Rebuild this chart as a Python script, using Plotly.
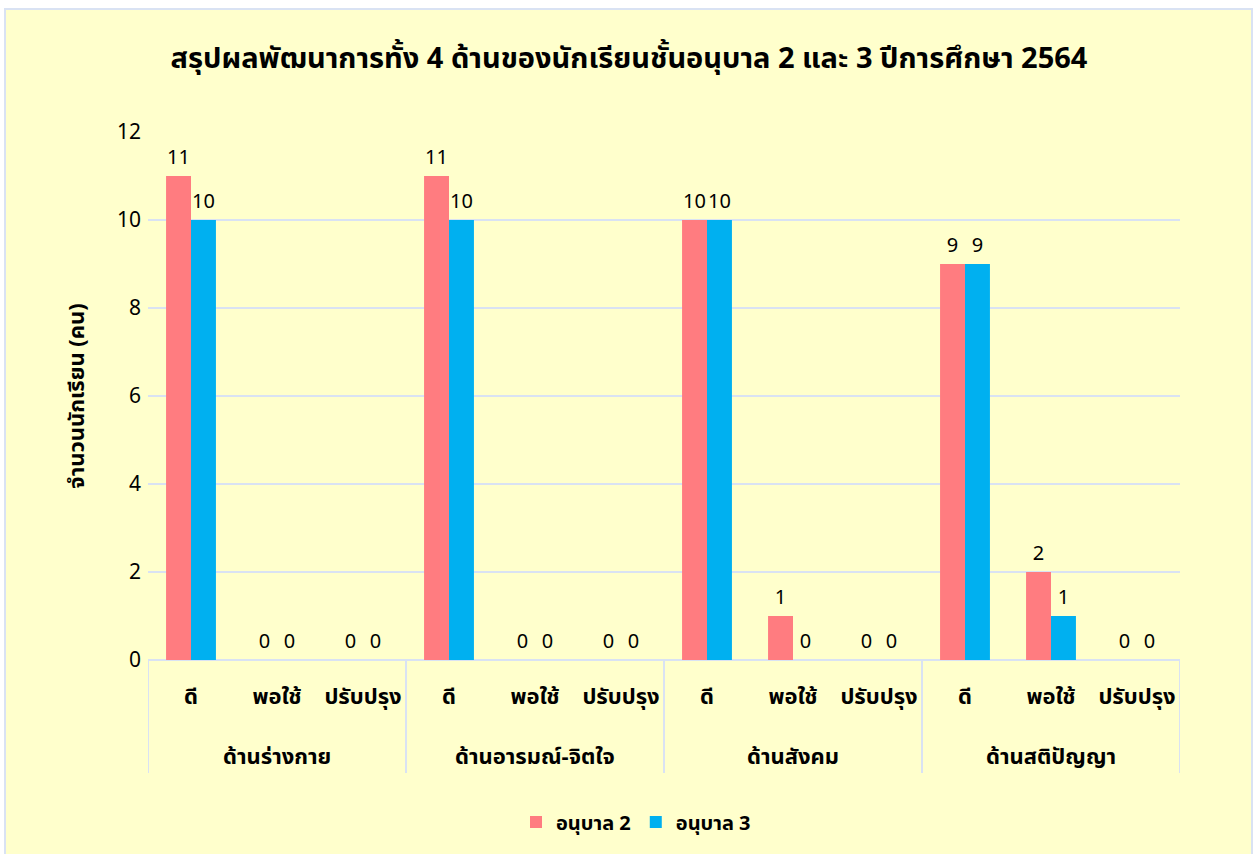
import plotly.graph_objects as go

groups = ["ด้านร่างกาย", "ด้านอารมณ์-จิตใจ", "ด้านสังคม", "ด้านสติปัญญา"]
levels = ["ดี", "พอใช้", "ปรับปรุง"]
series_names = ["อนุบาล 2", "อนุบาล 3"]
k2 = [11, 0, 0, 11, 0, 0, 10, 1, 0, 9, 2, 0]
k3 = [10, 0, 0, 10, 0, 0, 10, 0, 0, 9, 1, 0]
colors = ["#FF7C80", "#00B0F0"]

xl = [l for _ in groups for l in levels]
xi = list(range(len(xl)))
n = len(levels)

FONT = "Noto Sans Thai, Noto Sans, Tahoma, sans-serif"

fig = go.Figure()
for name, vals, c in zip(series_names, [k2, k3], colors):
    fig.add_trace(go.Bar(
        x=xi, y=vals, name="<b>" + name + "</b>", marker=dict(color=c, line=dict(width=0)),
        text=[str(v) for v in vals], textposition="outside", cliponaxis=False,
        textfont=dict(size=20, color="#000000", family=FONT),
    ))

W, H = 1253, 854
L, R, T, B = 148, 73, 132, 194
pw, ph = W - L - R, H - T - B

def px_x(p):
    return (p - L) / pw

def px_y(p):
    return (H - B - p) / ph

fig.add_shape(type="rect", xref="paper", yref="paper",
              x0=px_x(5), x1=px_x(1252), y0=px_y(856), y1=px_y(9),
              fillcolor="#FFFFCC", line=dict(color="#D9E2F3", width=2), layer="below")

# group dividers and group labels
for gi, g in enumerate(groups):
    fig.add_shape(type="line", xref="x", yref="paper",
                  x0=gi * n - 0.5, x1=gi * n - 0.5, y0=0, y1=px_y(773),
                  line=dict(color="#D9E2F3", width=2))
    fig.add_annotation(x=gi * n + (n - 1) / 2, y=px_y(757), xref="x", yref="paper",
                       text="<b>" + g + "</b>", showarrow=False, yanchor="middle",
                       font=dict(size=22, color="#000000", family=FONT))
fig.add_shape(type="line", xref="x", yref="paper",
              x0=len(xl) - 0.5, x1=len(xl) - 0.5, y0=0, y1=px_y(773),
              line=dict(color="#D9E2F3", width=2))

fig.update_layout(
    width=W, height=H,
    margin=dict(l=L, r=R, t=T, b=B),
    paper_bgcolor="white", plot_bgcolor="rgba(0,0,0,0)",
    font=dict(family=FONT, color="#000000"),
    title=dict(text="<b>สรุปผลพัฒนาการทั้ง 4 ด้านของนักเรียนชั้นอนุบาล 2 และ 3 ปีการศึกษา 2564</b>",
               x=629 / W, xanchor="center", y=1 - 58 / H, yanchor="middle",
               font=dict(size=29, color="#000000", family=FONT)),
    barmode="group", bargap=0.42, bargroupgap=0.0,
    showlegend=True,
    legend=dict(orientation="h", x=px_x(636), xanchor="center", y=px_y(822), yanchor="middle",
                font=dict(size=20, family=FONT), bgcolor="rgba(0,0,0,0)",
                itemwidth=30, traceorder="normal"),
)
fig.update_yaxes(range=[0, 12], dtick=2, showgrid=True, gridcolor="#D9E2F3", gridwidth=2,
                 zeroline=True, zerolinecolor="#D9E2F3", zerolinewidth=2,
                 tickfont=dict(size=21, color="#000000"), ticks="", showline=False,
                 ticklabelstandoff=6,
                 title=dict(text="<b>จำนวนนักเรียน (คน)</b>", font=dict(size=22), standoff=26))
fig.update_xaxes(range=[-0.5, len(xl) - 0.5], tickmode="array", tickvals=xi,
                 ticktext=["<b>" + t + "</b>" for t in xl],
                 tickfont=dict(size=22, color="#000000", family=FONT),
                 showline=False, showgrid=False, ticks="", ticklabelstandoff=21)

fig.write_html("out.html", config={"displayModeBar": False},
               post_script="document.body.style.margin='0';")
